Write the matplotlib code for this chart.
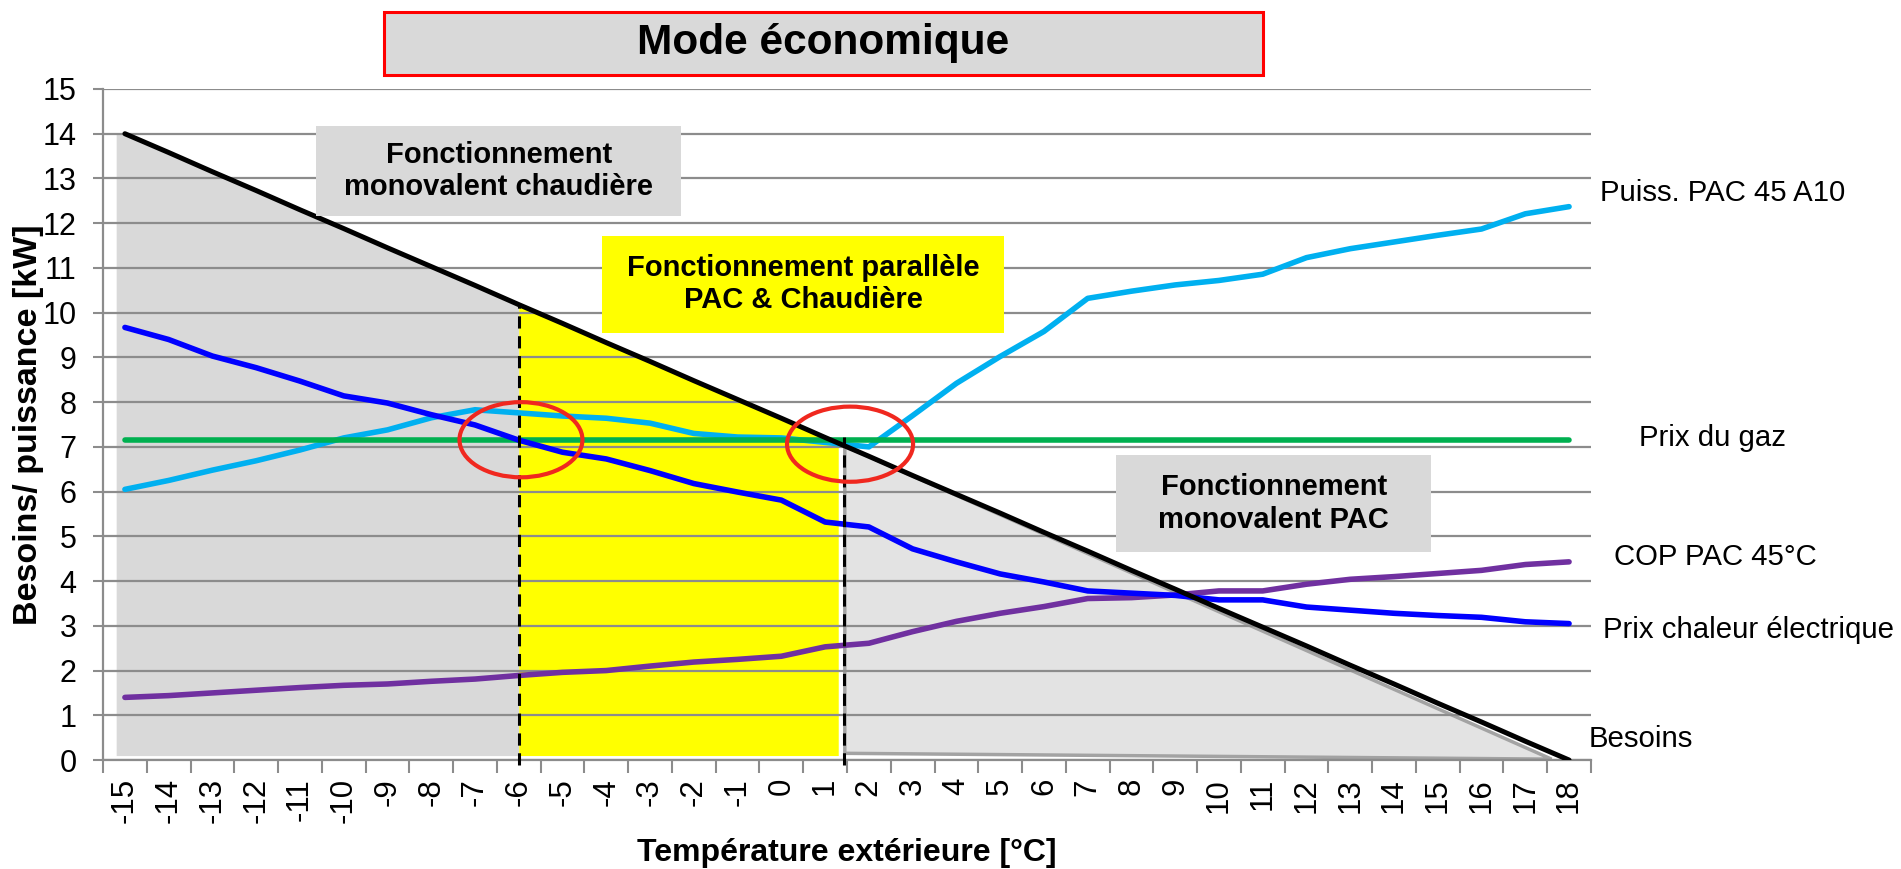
import numpy as np
import matplotlib.pyplot as plt
from matplotlib.patches import Ellipse, Rectangle, Polygon

plt.rcParams['font.family'] = ['Liberation Sans', 'DejaVu Sans']

# data
temps = list(range(-15, 19))
besoins = [14.0, 13.58, 13.15, 12.73, 12.30, 11.88, 11.45, 11.03, 10.61, 10.18,
           9.76, 9.33, 8.91, 8.48, 8.06, 7.64, 7.21, 6.79, 6.36, 5.94,
           5.52, 5.09, 4.67, 4.24, 3.82, 3.39, 2.97, 2.55, 2.12, 1.70,
           1.27, 0.85, 0.42, 0.0]
puiss_pac = [6.05, 6.25, 6.48, 6.69, 6.93, 7.2, 7.38, 7.65, 7.83, 7.76,
             7.69, 7.64, 7.53, 7.3, 7.22, 7.2, 7.1, 7.0, 7.7, 8.42,
             9.02, 9.58, 10.32, 10.48, 10.62, 10.72, 10.86, 11.23, 11.43, 11.58,
             11.73, 11.87, 12.21, 12.37]
prix_gaz = [7.15] * len(temps)
cop_pac = [1.4, 1.44, 1.5, 1.56, 1.62, 1.67, 1.7, 1.76, 1.81, 1.89,
           1.96, 2.0, 2.1, 2.19, 2.25, 2.32, 2.53, 2.61, 2.87, 3.1,
           3.28, 3.43, 3.61, 3.63, 3.69, 3.78, 3.78, 3.93, 4.04, 4.1,
           4.17, 4.24, 4.37, 4.43]
prix_elec = [9.67, 9.4, 9.03, 8.77, 8.47, 8.14, 7.98, 7.72, 7.49, 7.15,
             6.88, 6.73, 6.47, 6.18, 5.99, 5.81, 5.32, 5.21, 4.72, 4.43,
             4.16, 3.98, 3.78, 3.73, 3.68, 3.58, 3.58, 3.42, 3.35, 3.28,
             3.23, 3.19, 3.09, 3.05]

# operating zones (temperature limits)
zone_chaudiere = [-15.2, -6.0]
zone_parallele = [-6.0, 1.3]
zone_pac = [1.45, 17.6]
zone_floor = 0.1
switch_temps = [-6.0, 1.43]

series = [
    (puiss_pac, '#00b0f0', 'Puiss. PAC 45 A10', 18.7, 12.68),
    (prix_gaz, '#00b050', 'Prix du gaz', 19.6, 7.2),
    (cop_pac, '#7030a0', 'COP PAC 45°C', 19.03, 4.54),
    (prix_elec, '#0000ff', 'Prix chaleur électrique', 18.78, 2.91),
    (besoins, 'black', 'Besoins', 18.45, 0.47),
]

fig = plt.figure(figsize=(19.01, 8.69), dpi=100)
ax = fig.add_axes([0.0542, 0.1254, 0.7827, 0.7722])
ax.set_xlim(-15.5, 18.5)
ax.set_ylim(0, 15)


def need(x):
    return np.interp(x, temps, besoins)


# shaded zones under the demand line
xs = np.linspace(zone_chaudiere[0], zone_chaudiere[1], 50)
ax.fill_between(xs, zone_floor, need(xs), color='#d9d9d9', lw=0, zorder=0.2)
xs = np.linspace(zone_parallele[0], zone_parallele[1], 50)
ax.fill_between(xs, zone_floor, need(xs), color='#ffff00', lw=0, zorder=0.2)
a, b = zone_pac
ax.add_patch(Polygon([(a, 0.15), (a, need(a)), (b, 0.02)], closed=True,
                     facecolor='#e3e3e3', edgecolor='#a3a3a3', lw=2.5, zorder=0.2))

ax.set_axisbelow(True)
ax.yaxis.grid(True, color='#8c8c8c', lw=1.6)

for vals, col, lab, lx, ly in series:
    lw = 3.6 if col == 'black' else 4.0
    ax.plot(temps, vals, color=col, lw=lw, solid_capstyle='round', zorder=3)
    ax.text(lx, ly, lab, fontsize=21.2, ha='left', va='center', clip_on=False)

# dashed switch-over lines
ax.vlines(switch_temps, -0.12, need(np.array(switch_temps)) + [0.0, 0.2],
          colors='black', linestyles=(0, (4, 2.5)), lw=2.2, zorder=4, clip_on=False)

# red circles around crossings
for cx, cy, w, h in [(-5.95, 7.16, 2.81, 1.68), (1.57, 7.06, 2.88, 1.68)]:
    ax.add_patch(Ellipse((cx, cy), w, h, fill=False, edgecolor='#f0281f', lw=3, zorder=5))

# zone boxes
boxes = [
    (-10.63, 12.15, 8.34, 2.03, '#d9d9d9', 'Fonctionnement\nmonovalent chaudière'),
    (-4.1, 9.55, 9.19, 2.17, '#ffff00', 'Fonctionnement parallèle\nPAC & Chaudière'),
    (7.65, 4.65, 7.2, 2.17, '#d9d9d9', 'Fonctionnement\nmonovalent PAC'),
]
for x0, y0, w, h, fc, txt in boxes:
    ax.add_patch(Rectangle((x0, y0), w, h, facecolor=fc, edgecolor='none', zorder=6))
    ax.text(x0 + w / 2, y0 + h / 2, txt, ha='center', va='center', fontsize=21,
            fontweight='bold', linespacing=1.2, zorder=7)

# axes styling
ax.set_yticks(range(16))
ax.tick_params(axis='y', length=7, width=1.5, color='#8c8c8c', labelsize=22, pad=12)
ax.set_xticks(np.arange(-15.5, 18.6, 1))
ax.set_xticklabels([])
ax.set_xticks(temps, minor=True)
ax.set_xticklabels([str(t) for t in temps], minor=True, rotation=90, fontsize=22.5)
ax.tick_params(axis='x', which='major', length=9, width=1.5, color='#8c8c8c')
ax.tick_params(axis='x', which='minor', length=0, pad=13)
for s in ['top', 'right']:
    ax.spines[s].set_visible(False)
for s in ['left', 'bottom']:
    ax.spines[s].set_color('#8c8c8c')
    ax.spines[s].set_linewidth(1.6)

ax.set_ylabel('Besoins/ puissance [kW]', fontsize=24.5, fontweight='bold')
ax.yaxis.set_label_coords(-0.040, 0.5)
ax.set_xlabel('Température extérieure [°C]', fontsize=23, fontweight='bold')
ax.xaxis.set_label_coords(0.5, -0.116)

# title box
fig.patches.append(Rectangle((0.202, 0.9137), 0.4624, 0.0725, transform=fig.transFigure,
                             facecolor='#d9d9d9', edgecolor='#ff0000', lw=2.2))
fig.text(0.433, 0.95, 'Mode économique', ha='center', va='center',
         fontsize=30.5, fontweight='bold')

fig.savefig('out.png', dpi=100)
